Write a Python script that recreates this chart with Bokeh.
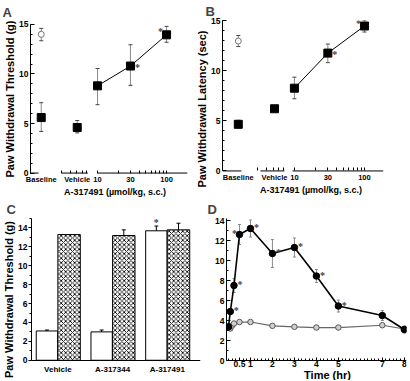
import math
from bokeh.plotting import figure
from bokeh.models import (Range1d, FixedTicker, Whisker, TeeHead, ColumnDataSource,
                          LabelSet, Label)
from bokeh.layouts import column, row
from bokeh.embed import file_html
from bokeh.resources import INLINE
from bokeh.transform import dodge

FONT = "Liberation Sans"

# ---------------- data ----------------
dose_labels = ["Baseline", "Vehicle", "10", "30", "100"]
dose_title = "A-317491 (\u00b5mol/kg, s.c.)"

# Panel A: paw withdrawal threshold (g)
a_pre_mean = [14.0]
a_pre_lo = [13.35]
a_pre_hi = [14.6]
a_mean = [5.6, 4.6, 8.8, 10.8, 13.95]
a_lo = [4.2, 4.05, 6.9, 8.85, 13.2]
a_hi = [7.1, 5.3, 10.55, 12.95, 14.8]
a_sig = [0, 0, 0, 1, -1]          # asterisk: 1 right, -1 upper-left

# Panel B: paw withdrawal latency (sec)
b_pre_mean = [12.95]
b_pre_lo = [12.4]
b_pre_hi = [13.5]
b_mean = [4.65, 6.2, 8.25, 11.75, 14.45]
b_lo = [4.3, 5.95, 7.2, 10.8, 13.85]
b_hi = [5.05, 6.45, 9.35, 12.65, 15.0]
b_sig = [0, 0, 0, 1, -1]

# Panel C: bars
c_groups = ["Vehicle", "A-317344", "A-317491"]
c_open = [3.1, 3.0, 13.7]
c_open_hi = [3.2, 3.2, 14.2]
c_hatch = [13.3, 13.2, 13.8]
c_hatch_hi = [13.3, 13.8, 14.5]
c_sig = [0, 0, 1]

# Panel D: time course
d_time = [0, 0.083, 0.25, 0.5, 1, 2, 3, 4, 5, 7, 8]
d_drug = [3.35, 4.9, 7.5, 12.6, 13.2, 10.7, 11.3, 8.45, 5.45, 4.5, 3.1]
d_drug_err = [0.35, 0.3, 0.7, 1.0, 0.85, 1.4, 0.95, 0.65, 0.6, 0.5, 0.35]
d_sig = [0, 1, 1, -1, 1, 1, 1, 1, 1, 0, 0]
d_veh_time = [0, 0.083, 0.167, 0.25, 0.5, 1, 2, 3, 4, 5, 7, 8]
d_veh = [3.3, 3.2, 3.5, 3.7, 3.85, 3.85, 3.47, 3.37, 3.3, 3.3, 3.53, 3.15]
d_veh_err = [0.15, 0.15, 0.15, 0.15, 0.15, 0.15, 0.15, 0.15, 0.15, 0.15, 0.15, 0.15]
d_time_ticks = [0.5, 1, 2, 3, 4, 5, 7, 8]
d_time_labels = ["0.5", "1", "2", "3", "4", "5", "7", "8"]

# ---------------- layout helpers ----------------
A_POS = [1.53, 5.08, 10, 30, 100]       # where categories sit on the log axis
B_POS = [1.58, 5.2, 10, 30, 100]
A_AXIS_PIECES = ([1.07, 3.05, 10], [1.40, 7.2, 201])
B_AXIS_PIECES = ([0.94, 3.27, 9.4], [1.75, 7.2, 187])
LOG_MINOR = [3, 4, 5, 6, 7, 10, 20, 30, 40, 50, 60, 70, 80, 90, 100]
ERR = "#8a8a8a"
TOP_H = 197
BOT_H = 183


def y_range_with_room(top_val, top_px, zero_px, fig_h, frame_top_px=None):
    """Frame runs to the figure bottom; leave room under y=0 for tick labels."""
    per_px = top_val / (zero_px - top_px)
    if frame_top_px is None:
        frame_top_px = top_px
    return Range1d(-(fig_h - zero_px) * per_px,
                   top_val + (top_px - frame_top_px) * per_px)


def base_style(p, letter, offset, standoff):
    p.grid.visible = False
    p.outline_line_color = None
    p.background_fill_color = "white"
    p.border_fill_color = "white"
    for ax in p.axis:
        ax.axis_line_color = "black"
        ax.axis_line_width = 1
        ax.major_tick_in = 4
        ax.minor_tick_in = 2
        ax.major_tick_out = 0
        ax.minor_tick_out = 0
        ax.major_tick_line_color = "black"
        ax.minor_tick_line_color = "black"
        ax.major_label_text_font = FONT
        ax.major_label_text_font_style = "bold"
        ax.major_label_text_font_size = "8.5px"
        ax.major_label_text_color = "black"
        ax.major_label_standoff = 2
        ax.axis_label_text_font = FONT
        ax.axis_label_text_font_style = "bold"
        ax.axis_label_text_color = "black"
        ax.axis_label_standoff = 0
    p.title.text = letter
    p.title.text_font = FONT
    p.title.text_font_style = "bold"
    p.title.text_font_size = "13px"
    p.title.align = "left"
    p.title.offset = offset
    p.title.standoff = standoff


def bottom_title(p, text, size, drop, x_mid, x_shift):
    p.add_layout(Label(x=x_mid, y=0, text=text,
                       x_offset=x_shift, y_offset=-drop,
                       text_font=FONT, text_font_style="bold",
                       text_font_size=size, text_align="center",
                       text_baseline="middle", text_color="black"))


def dose_panel(width, pos, pieces, xr, yr, mean, lo, hi, pre_mean, pre_lo,
               pre_hi, sig, ylabel, borders, letter, offset, tstand, title_shift,
               inner_y_axis_px=0, decade_px=69):
    # optionally let the frame run to the figure's left edge so that the first
    # category label is not clipped; the y axis is then pinned at xr[0]
    x_start = xr[0] / 10 ** (inner_y_axis_px / decade_px)
    p = figure(width=width, height=TOP_H, x_axis_type="log",
               x_range=Range1d(x_start, xr[1]), y_range=yr,
               output_backend="svg", toolbar_location=None,
               min_border_left=borders[0], min_border_right=borders[1],
               min_border_top=borders[2], min_border_bottom=0)
    base_style(p, letter, offset, tstand)
    src = ColumnDataSource(dict(x=pos, m=mean, lo=lo, hi=hi,
                                star=["*" if s else "" for s in sig],
                                dx=[7 if s > 0 else -6 for s in sig],
                                dy=[-1 if s > 0 else 3 for s in sig]))
    pre = ColumnDataSource(dict(x=pos[:1], m=pre_mean, lo=pre_lo, hi=pre_hi))
    for s in (src, pre):
        p.add_layout(Whisker(source=s, base="x", lower="lo", upper="hi",
                             line_color=ERR, line_width=1,
                             upper_head=TeeHead(size=4, line_color="#444"),
                             lower_head=TeeHead(size=4, line_color="#444")))
    dose_src = ColumnDataSource(dict(x=pos[2:], m=mean[2:]))
    p.line("x", "m", source=dose_src, line_color="black", line_width=1)
    p.scatter("x", "m", source=src, marker="square", size=8,
              fill_color="black", line_color="black")
    p.scatter("x", "m", source=pre, marker="circle", size=6,
              fill_color="white", line_color="#777", line_width=1)
    p.add_layout(LabelSet(x="x", y="m", text="star", source=src,
                          x_offset="dx", y_offset="dy",
                          text_font=FONT, text_font_style="bold",
                          text_font_size="10px", text_align="center",
                          text_baseline="middle"))
    # broken x axis line
    p.segment(x0=pieces[0], x1=pieces[1], y0=0, y1=0,
              line_color="black", line_width=1)
    xa = p.xaxis[0]
    xa.fixed_location = 0
    xa.axis_line_color = None
    xa.major_tick_line_color = None
    xa.minor_tick_in = 3
    xa.ticker = FixedTicker(ticks=pos, minor_ticks=LOG_MINOR)
    xa.major_label_overrides = {pv: lab for pv, lab in zip(pos, dose_labels)}
    xa.major_label_text_font_size = "7.5px"
    xa.major_label_standoff = 2
    bottom_title(p, dose_title, "9px", 19, math.sqrt(xr[0] * xr[1]), title_shift)
    ya = p.yaxis[0]
    if inner_y_axis_px:
        ya.fixed_location = xr[0]
    ya.bounds = (0, 15)
    ya.ticker = FixedTicker(ticks=[0, 5, 10, 15], minor_ticks=list(range(0, 16)))
    ya.axis_label = ylabel
    ya.axis_label_text_font_size = "11px"
    return p


pA = dose_panel(190, A_POS, A_AXIS_PIECES, (1.07, 201),
                y_range_with_room(15, 20, 172, TOP_H, frame_top_px=16),
                a_mean, a_lo, a_hi,
                a_pre_mean, a_pre_lo, a_pre_hi, a_sig,
                "Paw Withdrawal Threshold (g)", (0, 3, 16), "A", 2, 1, 6,
                inner_y_axis_px=30, decade_px=69)
pB = dose_panel(220, B_POS, B_AXIS_PIECES, (0.94, 187),
                y_range_with_room(15, 17, 170, TOP_H), b_mean, b_lo, b_hi,
                b_pre_mean, b_pre_lo, b_pre_hi, b_sig,
                "Paw Withdrawal Latency (sec)", (32, 27, 17), "B", -17, 3, 8)

# ---------------- panel C ----------------
idx = list(range(len(c_groups)))
pC = figure(width=205, height=BOT_H, x_range=Range1d(-0.482, 2.607),
            y_range=y_range_with_room(15, 15, 162, BOT_H),
            output_backend="svg", toolbar_location=None,
            min_border_left=27, min_border_right=5, min_border_top=15,
            min_border_bottom=0)
base_style(pC, "C", -25, 4)
csrc = ColumnDataSource(dict(x=idx, o=c_open, ohi=c_open_hi, h=c_hatch,
                             hhi=c_hatch_hi,
                             star=["*" if s else "" for s in c_sig]))
pC.vbar(x=dodge("x", -0.2, range=pC.x_range), top="o", bottom=0, width=0.39,
        source=csrc, fill_color="white", line_color="black", line_width=1)
pC.vbar(x=dodge("x", 0.205, range=pC.x_range), top="h", bottom=0, width=0.41,
        source=csrc, fill_color="white", line_color="black", line_width=1,
        hatch_pattern="diagonal_cross", hatch_color="black", hatch_scale=4.5,
        hatch_weight=0.9)
pC.add_layout(Whisker(source=csrc, base=dodge("x", -0.2, range=pC.x_range),
                      lower="o", upper="ohi", line_color="black",
                      upper_head=TeeHead(size=4, line_color="black"),
                      lower_head=None, level="overlay"))
pC.add_layout(Whisker(source=csrc, base=dodge("x", 0.205, range=pC.x_range),
                      lower="h", upper="hhi", line_color="black",
                      upper_head=TeeHead(size=4, line_color="black"),
                      lower_head=None, level="overlay"))
pC.add_layout(LabelSet(x=dodge("x", -0.2, range=pC.x_range), y="ohi",
                       text="star", source=csrc, y_offset=4,
                       text_font=FONT, text_font_style="bold",
                       text_font_size="10px", text_align="center",
                       text_baseline="middle"))
cx = pC.xaxis[0]
cx.fixed_location = 0
cx.ticker = FixedTicker(ticks=idx, minor_ticks=[])
cx.major_label_overrides = {i: g for i, g in zip(idx, c_groups)}
cx.major_tick_in = 0
cx.major_label_text_font_size = "8px"
cx.major_label_standoff = 5
cy = pC.yaxis[0]
cy.bounds = (0, 15)
cy.major_tick_in = 0
cy.minor_tick_in = 0
cy.major_tick_out = 3
cy.minor_tick_out = 2
cy.major_label_standoff = 1
cy.ticker = FixedTicker(ticks=list(range(0, 15, 2)), minor_ticks=list(range(0, 16)))
cy.axis_label = "Paw Withdrawal Threshold (g)"
cy.axis_label_text_font_size = "11px"

# ---------------- panel D ----------------
pD = figure(width=205, height=BOT_H, x_range=Range1d(-0.09, 8.1),
            y_range=y_range_with_room(14.2, 15, 162.3, BOT_H),
            output_backend="svg", toolbar_location=None,
            min_border_left=21, min_border_right=4, min_border_top=15,
            min_border_bottom=0)
base_style(pD, "D", -19, 4)
dsrc = ColumnDataSource(dict(t=d_time, m=d_drug,
                             lo=[m - e for m, e in zip(d_drug, d_drug_err)],
                             hi=[m + e for m, e in zip(d_drug, d_drug_err)],
                             star=["*" if s else "" for s in d_sig],
                             dx=[6 if s > 0 else -5 for s in d_sig]))
vsrc = ColumnDataSource(dict(t=d_veh_time, m=d_veh,
                             lo=[m - e for m, e in zip(d_veh, d_veh_err)],
                             hi=[m + e for m, e in zip(d_veh, d_veh_err)]))
for s in (vsrc, dsrc):
    pD.add_layout(Whisker(source=s, base="t", lower="lo", upper="hi",
                          line_color=ERR, line_width=1,
                          upper_head=TeeHead(size=3, line_color=ERR),
                          lower_head=TeeHead(size=3, line_color=ERR)))
pD.line("t", "m", source=vsrc, line_color="#666", line_width=1.2)
pD.scatter("t", "m", source=vsrc, marker="circle", size=5.5,
           fill_color="#cfcfcf", line_color="#555", line_width=1)
pD.line("t", "m", source=dsrc, line_color="black", line_width=1.6)
pD.scatter("t", "m", source=dsrc, marker="circle", size=6.5,
           fill_color="black", line_color="black")
pD.add_layout(LabelSet(x="t", y="m", text="star", source=dsrc,
                       x_offset="dx", y_offset=1,
                       text_font=FONT, text_font_style="bold",
                       text_font_size="10px", text_align="center",
                       text_baseline="middle"))
dx_ax = pD.xaxis[0]
dx_ax.fixed_location = 0
dx_ax.bounds = (pD.x_range.start, pD.x_range.end)
dx_ax.ticker = FixedTicker(ticks=d_time_ticks,
                           minor_ticks=[i / 6 for i in range(0, 49)])
dx_ax.major_label_overrides = {t: l for t, l in zip(d_time_ticks, d_time_labels)}
dx_ax.major_tick_in = 3
dx_ax.minor_tick_in = 2
dx_ax.major_label_standoff = 0
bottom_title(pD, "Time (hr)", "11px", 14,
             (pD.x_range.start + pD.x_range.end) / 2, 11)
dy_ax = pD.yaxis[0]
dy_ax.bounds = (0, 14.2)
dy_ax.major_label_standoff = 2
dy_ax.ticker = FixedTicker(ticks=list(range(0, 15, 2)), minor_ticks=list(range(0, 15)))

layout = column(row(pA, pB), row(pC, pD))
open("out.html", "w").write(file_html(layout, INLINE))
